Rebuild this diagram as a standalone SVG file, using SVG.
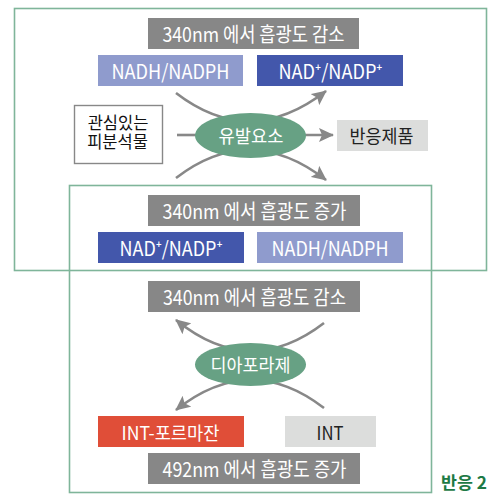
<svg xmlns="http://www.w3.org/2000/svg" width="489" height="495" viewBox="0 0 489 495">
<defs>
<marker id="ah" markerUnits="userSpaceOnUse" markerWidth="16" markerHeight="14" viewBox="0 0 16 14" refX="14" refY="7" orient="auto">
<path d="M0,0 L15,7 L0,14 L3,7 Z" fill="#888"/>
</marker>
<style>
text{font-family:"Noto Sans CJK KR","Noto Sans",sans-serif;font-size:20px;text-anchor:middle}
.s{font-size:18.5px}
.t{font-size:16.5px}
.w{fill:#fff}
.k{fill:#222}
.frame{fill:none;stroke:#7fb59a;stroke-width:1.6}
.gray{fill:#878787}
.lb{fill:#8f9bcd}
.db{fill:#4357ab}
.lg{fill:#dcdddc}
.ell{fill:#67a184}
.c{fill:none;stroke:#888;stroke-width:2.6}
.ca{fill:none;stroke:#888;stroke-width:2.6;marker-end:url(#ah)}
</style>
</defs>
<rect id="frame1" class="frame" x="14.5" y="8.5" width="472" height="262"/>
<rect id="frame2" class="frame" x="69.5" y="185.5" width="362" height="307"/>
<g id="connectors">
<path class="ca" d="M176,93 Q250,150 326,91"/>
<path class="ca" d="M176,178 Q250,121 326,180"/>
<path class="c" d="M177,135 L200,135"/>
<path class="ca" d="M300,135 L333,135"/>
<path class="ca" d="M324,323 Q250,380 176,320"/>
<path class="ca" d="M324,408 Q250,351 176,410"/>
</g>
<g id="abs1"><rect class="gray" x="148" y="18" width="211" height="31"/><text class="w" x="253.5" y="41.5" textLength="182" lengthAdjust="spacingAndGlyphs">340nm 에서 흡광도 감소</text></g>
<g id="nadh1"><rect class="lb" x="98" y="55" width="145" height="31"/><text class="w" x="170.5" y="78.5" textLength="118" lengthAdjust="spacingAndGlyphs">NADH/NADPH</text></g>
<g id="nad1"><rect class="db" x="257" y="55" width="146" height="31"/><text class="w" x="330.5" y="78.5" textLength="104" lengthAdjust="spacingAndGlyphs">NAD⁺/NADP⁺</text></g>
<g id="analyte"><rect x="74.5" y="105.5" width="88" height="58" fill="#fff" stroke="#888" stroke-width="1.4"/><text class="t" fill="#111"><tspan x="118" y="129">관심있는</tspan><tspan x="117.5" y="148">피분석물</tspan></text></g>
<g id="inducer"><ellipse class="ell" cx="250.5" cy="135.5" rx="55.5" ry="22.5"/><text class="w s" x="251" y="142.5" textLength="65" lengthAdjust="spacingAndGlyphs">유발요소</text></g>
<g id="product"><rect class="lg" x="337" y="120" width="91" height="31"/><text class="k s" x="381.5" y="142.5" textLength="64" lengthAdjust="spacingAndGlyphs">반응제품</text></g>
<g id="abs2"><rect class="gray" x="148" y="195" width="212" height="31"/><text class="w" x="254.5" y="218.5" textLength="184" lengthAdjust="spacingAndGlyphs">340nm 에서 흡광도 증가</text></g>
<g id="nad2"><rect class="db" x="98" y="232" width="146" height="31"/><text class="w" x="171" y="255.5" textLength="103" lengthAdjust="spacingAndGlyphs">NAD⁺/NADP⁺</text></g>
<g id="nadh2"><rect class="lb" x="257" y="232" width="146" height="31"/><text class="w" x="330" y="255.5" textLength="117" lengthAdjust="spacingAndGlyphs">NADH/NADPH</text></g>
<g id="abs3"><rect class="gray" x="148" y="281" width="212" height="31"/><text class="w" x="254.5" y="304.5" textLength="183" lengthAdjust="spacingAndGlyphs">340nm 에서 흡광도 감소</text></g>
<g id="diaphorase"><ellipse class="ell" cx="250.5" cy="364.5" rx="55.5" ry="21.5"/><text class="w s" x="250.5" y="372" textLength="80" lengthAdjust="spacingAndGlyphs">디아포라제</text></g>
<g id="formazan"><rect fill="#e04e38" x="98" y="416" width="146" height="31"/><text class="w s" x="170.5" y="439.5" textLength="98" lengthAdjust="spacingAndGlyphs">INT-포르마잔</text></g>
<g id="int"><rect class="lg" x="285" y="416" width="91" height="31"/><text class="k s" x="330" y="439.5" textLength="27" lengthAdjust="spacingAndGlyphs">INT</text></g>
<g id="abs4"><rect class="gray" x="148" y="453" width="212" height="31"/><text class="w" x="254.5" y="476.5" textLength="184" lengthAdjust="spacingAndGlyphs">492nm 에서 흡광도 증가</text></g>
<text x="464" y="489" style="font-size:17px;font-weight:bold;fill:#1d7a45" textLength="46" lengthAdjust="spacingAndGlyphs">반응 2</text>
</svg>
